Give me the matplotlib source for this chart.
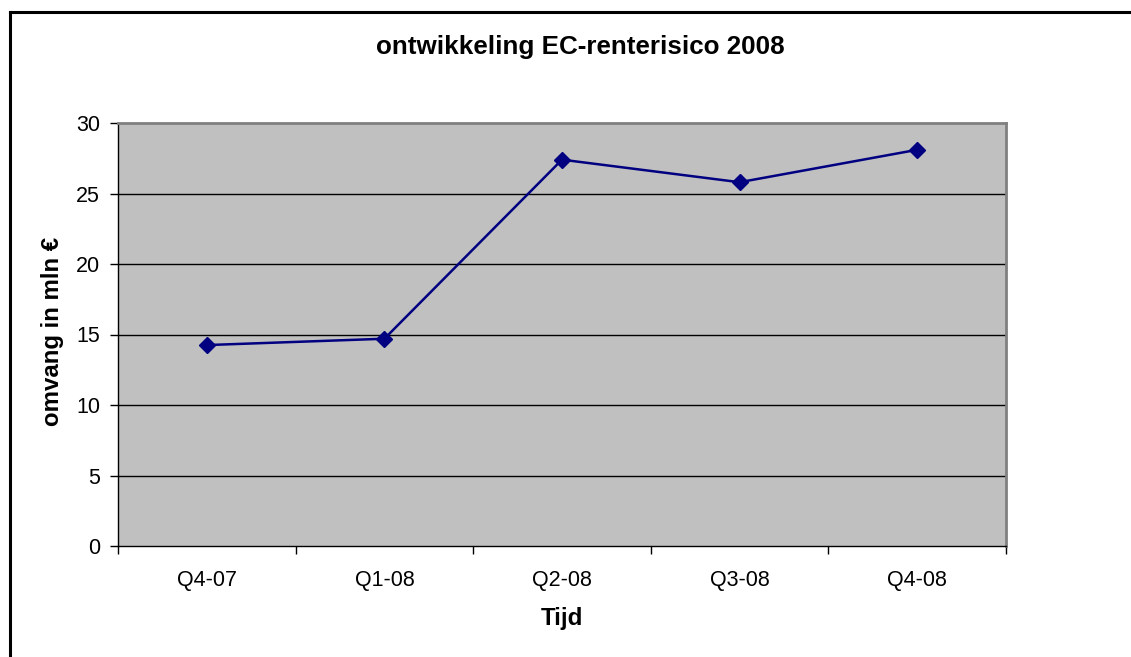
import matplotlib
matplotlib.use("Agg")
import matplotlib.pyplot as plt
from matplotlib.lines import Line2D

plt.rcParams['font.family'] = ['Liberation Sans', 'DejaVu Sans']

quarters = ["Q4-07", "Q1-08", "Q2-08", "Q3-08", "Q4-08"]
omvang = [14.25, 14.7, 27.4, 25.8, 28.1]
y_ticks = [0, 5, 10, 15, 20, 25, 30]

W, H = 1131, 657
fig = plt.figure(figsize=(W / 100, H / 100), dpi=100)
fig.patch.set_facecolor("white")

ax = fig.add_axes([118 / W, 1 - 546 / H, 888 / W, 423 / H])
ax.set_facecolor("#c0c0c0")

x = list(range(len(quarters)))
ax.plot(x, omvang, color="#000080", linewidth=1.8, marker="D",
        markersize=8.5, markerfacecolor="#000080", markeredgecolor="#000080",
        zorder=3)

ax.set_xlim(-0.5, len(quarters) - 0.5)
ax.set_ylim(0, 30)
ax.set_yticks(y_ticks)
ax.set_yticklabels([str(v) for v in y_ticks])
ax.set_xticks(x)
ax.set_xticklabels(quarters)
ax.set_xticks([i - 0.5 for i in range(len(quarters) + 1)], minor=True)

ax.tick_params(axis="x", which="major", length=0, pad=17, labelsize=15.5)
ax.tick_params(axis="x", which="minor", length=6, width=1, direction="out")
ax.tick_params(axis="y", which="major", length=6, width=1, direction="out",
               pad=7, labelsize=15.5)

for v in y_ticks[1:-1]:
    ax.axhline(v, color="black", linewidth=1, zorder=1)

for side in ("top", "right"):
    ax.spines[side].set_color("#808080")
    ax.spines[side].set_linewidth(2)
for side in ("left", "bottom"):
    ax.spines[side].set_color("black")
    ax.spines[side].set_linewidth(1)

fig.text(580 / W, 1 - 47 / H, "ontwikkeling EC-renterisico 2008",
         ha="center", va="center", fontsize=18.7, fontweight="bold")
fig.text(53 / W, 1 - 331 / H, "omvang in mln €", rotation=90,
         ha="center", va="center", fontsize=17.3, fontweight="bold")
fig.text(562 / W, 1 - 619 / H, "Tijd",
         ha="center", va="center", fontsize=17.3, fontweight="bold")

# outer frame: left and top edges
fig.add_artist(Line2D([9.5 / W, 9.5 / W], [0, 1 - 11.5 / H],
                      transform=fig.transFigure, color="black", linewidth=2.2))
fig.add_artist(Line2D([9.5 / W, 1], [1 - 11.5 / H, 1 - 11.5 / H],
                      transform=fig.transFigure, color="black", linewidth=2.2))

fig.savefig("out.png", dpi=100)
